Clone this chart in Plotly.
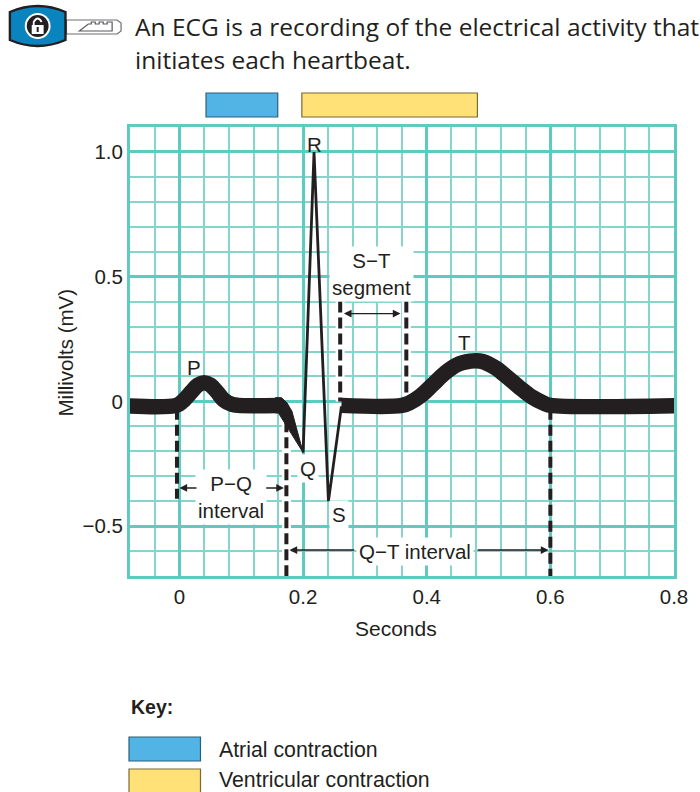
import plotly.graph_objects as go

# ---- data ----
baseline = -0.016
p_wave_x = [-0.1, -0.005, 0.005, 0.02, 0.03, 0.04, 0.05, 0.06, 0.072, 0.085, 0.095, 0.16]
p_wave_y = [baseline, baseline, 0.0, 0.04, 0.066, 0.075, 0.066, 0.04, 0.005, -0.012, baseline, baseline]
q_taper_x = [0.155, 0.165, 0.174, 0.182, 0.2, 0.172, 0.16, 0.155]
q_taper_y = [0.015, 0.015, -0.006, -0.04, -0.205, -0.094, -0.046, -0.046]
spike_x = [0.2, 0.2177, 0.241, 0.262]
spike_y = [-0.205, 1.0, -0.4, -0.02]
t_wave_x = [0.262, 0.36, 0.375, 0.39, 0.41, 0.43, 0.45, 0.47, 0.48, 0.49, 0.51, 0.53, 0.55, 0.57, 0.59, 0.6, 0.82]
t_wave_y = [baseline, baseline, -0.002, 0.022, 0.068, 0.115, 0.148, 0.161, 0.163, 0.16, 0.136, 0.098, 0.056, 0.018, -0.008, baseline, baseline]

dashes = [
    ("P", -0.004, -0.03, -0.39, False),
    ("Q", 0.173, -0.08, -0.7, True),
    ("S", 0.26, 0.4, 0.0, True),
    ("T", 0.367, 0.4, 0.02, True),
    ("End", 0.6, -0.03, -0.7, False),
]
x_ticks = [0, 0.2, 0.4, 0.6, 0.8]
x_labels = ["0", "0.2", "0.4", "0.6", "0.8"]
y_ticks = [-0.5, 0, 0.5, 1.0]
y_labels = ["\u22120.5", "0", "0.5", "1.0"]
atrial_span = [0.043, 0.159]
ventricular_span = [0.198, 0.482]

# ---- style ----
INK = "#231f20"
MAJOR = "#5fcabf"
MINOR = "#84d6cd"
BLUE = "#52b3e5"
YELLOW = "#ffe177"
SANS = "Liberation Sans"
L, T, R, B = 130, 127, 678, 576


def px(x):
    return (x - L) / (R - L)


def py(y):
    return (B - y) / (B - T)


def path(*cmds):
    out = []
    for c in cmds:
        if isinstance(c, str):
            out.append(c)
        else:
            out.append(f"{px(c[0]):.5f},{py(c[1]):.5f}")
    return " ".join(out)


fig = go.Figure()

for name, x0, y0, y1, halo in dashes:
    if halo:
        fig.add_trace(go.Scatter(x=[x0, x0], y=[y0, y1], mode="lines", showlegend=False, hoverinfo="skip",
                                 line=dict(color="white", width=9), cliponaxis=True))
for name, x0, y0, y1, halo in dashes:
    fig.add_trace(go.Scatter(x=[x0, x0], y=[y0, y1], mode="lines", showlegend=False, name=name,
                             line=dict(color=INK, width=4, dash="11px,5px")))

fig.add_trace(go.Scatter(x=q_taper_x, y=q_taper_y, mode="lines", fill="toself", fillcolor=INK,
                         line=dict(color=INK, width=1), showlegend=False, name="Q taper"))
fig.add_trace(go.Scatter(x=p_wave_x, y=p_wave_y, mode="lines", showlegend=False, name="P wave",
                         line=dict(color=INK, width=15.5, shape="spline", smoothing=1)))
fig.add_trace(go.Scatter(x=spike_x, y=spike_y, mode="lines", showlegend=False, name="QRS",
                         line=dict(color=INK, width=2.8)))
fig.add_trace(go.Scatter(x=t_wave_x, y=t_wave_y, mode="lines", showlegend=False, name="T wave",
                         line=dict(color=INK, width=15.5, shape="spline", smoothing=1)))

shapes = []
# timing bars above the grid
for span, col, edge in [(atrial_span, BLUE, "#2d5f7a"), (ventricular_span, YELLOW, "#7a6a35")]:
    shapes.append(dict(type="rect", xref="x", yref="paper", x0=span[0], x1=span[1],
                       y0=py(117), y1=py(93), fillcolor=col, line=dict(color=edge, width=1.2)))
# key swatches
for top, col, edge in [(737, BLUE, "#2d5f7a"), (769, YELLOW, "#7a6a35")]:
    shapes.append(dict(type="rect", xref="paper", yref="paper", x0=px(129), x1=px(201),
                       y0=py(top + 24), y1=py(top), fillcolor=col, line=dict(color=edge, width=1.2)))
# key icon
shapes.append(dict(type="path", xref="paper", yref="paper", fillcolor="white", line=dict(color="#6d6e71", width=1.2),
                   path=path("M", (66, 20), "L", (117, 20), "L", (121, 23), "L", (121, 31), "L", (117, 34), "L", (66, 34), "Z")))
shapes.append(dict(type="path", xref="paper", yref="paper", fillcolor="white", line=dict(color="#58595b", width=1.2),
                   path=path("M", (79, 31), "L", (88, 24), "L", (91, 24), "L", (91, 22), "L", (95, 22), "L", (95, 24),
                             "L", (99, 24), "L", (99, 22), "L", (103, 22), "L", (103, 24), "L", (107, 24), "L", (107, 22),
                             "L", (112, 22), "L", (112, 31), "Z")))
shapes.append(dict(type="path", xref="paper", yref="paper", fillcolor="#0a84bf", line=dict(color=INK, width=2.4),
                   path=path("M", (9, 12), "Q", (37, 0), (65, 12), "L", (65, 40), "Q", (37, 52), (9, 40), "Z")))
shapes.append(dict(type="circle", xref="paper", yref="paper", x0=px(24), x1=px(50), y0=py(39), y1=py(13),
                   fillcolor="white", line=dict(color="white", width=0)))
shapes.append(dict(type="circle", xref="paper", yref="paper", x0=px(26), x1=px(48), y0=py(37), y1=py(15),
                   fillcolor=INK, line=dict(color=INK, width=0)))
shapes.append(dict(type="rect", xref="paper", yref="paper", x0=px(31), x1=px(43), y0=py(34), y1=py(25),
                   fillcolor="white", line=dict(color="white", width=0)))
shapes.append(dict(type="path", xref="paper", yref="paper", fillcolor="rgba(0,0,0,0)", line=dict(color="white", width=1.8),
                   path=path("M", (33, 25), "L", (33, 22), "Q", (37, 15), (41, 22))))
shapes.append(dict(type="rect", xref="paper", yref="paper", x0=px(36), x1=px(38), y0=py(32), y1=py(27),
                   fillcolor=INK, line=dict(color=INK, width=0)))

ann = []


def label(x, y, text, size=20.5, bg=None, **kw):
    d = dict(xref="paper", yref="paper", x=px(x), y=py(y), text=text, showarrow=False,
             font=dict(family=SANS, size=size, color=INK), xanchor="center", yanchor="middle")
    if bg:
        d.update(bgcolor=bg, borderpad=2)
    d.update(kw)
    ann.append(d)


def arrow(x_tip, x_tail, y, both=False):
    ann.append(dict(xref="x", yref="y", axref="x", ayref="y", x=x_tip, y=y, ax=x_tail, ay=y, text="",
                    showarrow=True, arrowhead=2, arrowsize=1.1, arrowwidth=1.4, arrowcolor=INK,
                    startarrowhead=2, startarrowsize=1.1, arrowside="end+start" if both else "end"))


label(133, 26, "An ECG is a recording of the electrical activity that", size=24.5, xanchor="left")
ann[-1]["font"]["family"] = "Open Sans"
label(133, 59, "initiates each heartbeat.", size=24.5, xanchor="left")
ann[-1]["font"]["family"] = "Open Sans"

label(316, 144, "R")
label(194, 367, "P")
label(309, 468, "Q", bg="white")
label(341, 514, "S", bg="white")
label(467, 342, "T")
label(373, 274, "S\u2212T<br>segment", bg="white")
label(232, 497, "P\u2212Q<br>interval", bg="white")
label(417, 551, "Q\u2212T interval", bg="white")
arrow(0.262 + 0.004, 0.36, 0.352, both=True)
arrow(0.0, 0.03, -0.347)
arrow(0.169, 0.138, -0.347)
arrow(0.178, 0.285, -0.596)
arrow(0.597, 0.48, -0.596)

label(398, 628, "Seconds", size=21)
label(65, 352, "Millivolts (mV)", textangle=-90)
label(128.5, 707, "<b>Key:</b>", size=19.5, xanchor="left")
label(218, 750, "Atrial contraction", size=21.3, xanchor="left")
label(218, 780, "Ventricular contraction", size=21.3, xanchor="left")

fig.update_layout(
    width=700, height=792, autosize=False, paper_bgcolor="white", plot_bgcolor="white",
    margin=dict(l=L, r=700 - R, t=T, b=792 - B), showlegend=False,
    shapes=shapes, annotations=ann,
    xaxis=dict(range=[-0.08, 0.8], tickmode="array", tickvals=x_ticks, ticktext=x_labels,
               showgrid=True, gridcolor=MAJOR, gridwidth=2.5, zeroline=False,
               showline=True, mirror=True, linecolor=MAJOR, linewidth=3,
               ticks="",
               tickfont=dict(family=SANS, size=20.5, color=INK),
               minor=dict(tickmode="array", tickvals=[-0.04, 0.04, 0.08, 0.12, 0.16, 0.24, 0.28, 0.32, 0.36,
                                                      0.44, 0.48, 0.52, 0.56, 0.64, 0.68, 0.72, 0.76],
                          showgrid=True, gridcolor=MINOR, gridwidth=1.7, ticks="")),
    yaxis=dict(range=[-0.7, 1.1], tickmode="array", tickvals=y_ticks, ticktext=y_labels,
               showgrid=True, gridcolor=MAJOR, gridwidth=2.5, zeroline=False,
               showline=True, mirror=True, linecolor=MAJOR, linewidth=3,
               ticks="", tickfont=dict(family=SANS, size=20.5, color=INK),
               minor=dict(tickmode="array", tickvals=[-0.6, -0.4, -0.3, -0.2, -0.1, 0.1, 0.2, 0.3, 0.4,
                                                      0.6, 0.7, 0.8, 0.9],
                          showgrid=True, gridcolor=MINOR, gridwidth=1.7, ticks="")),
)
fig.write_html("out.html", config=dict(displayModeBar=False),
               post_script="document.body.style.margin='0';document.documentElement.style.overflow='hidden';")
